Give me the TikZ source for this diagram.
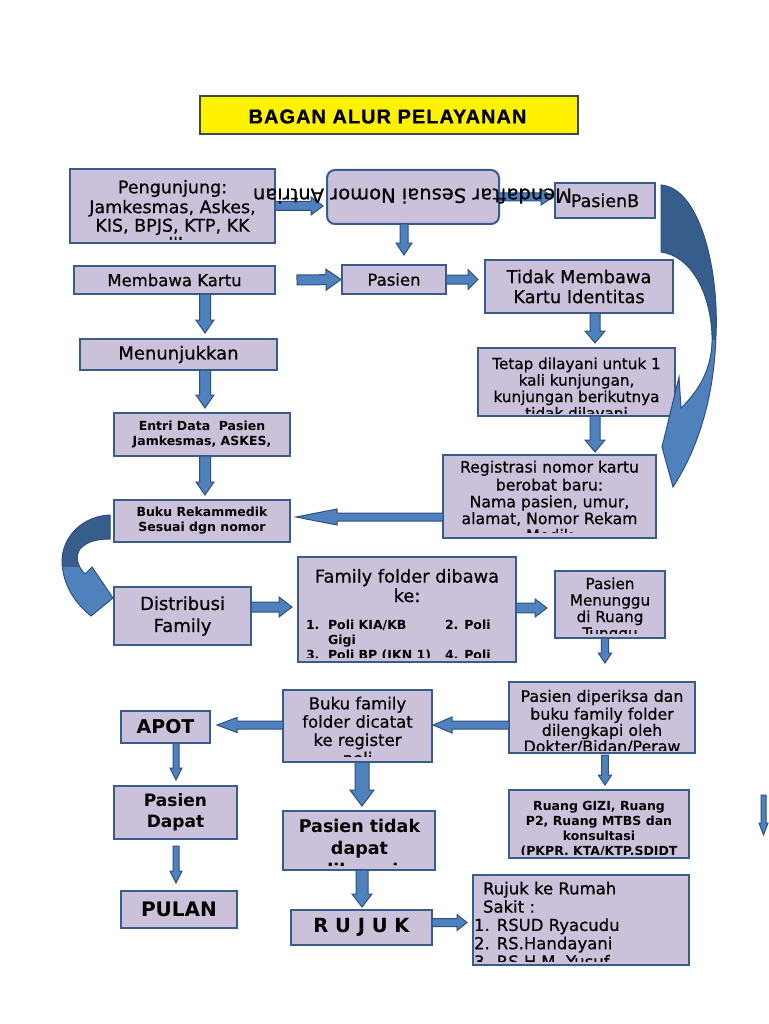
\documentclass[tikz,border=0pt]{standalone}
\usepackage{fontspec}
\setmainfont{DejaVu Sans}[UprightFeatures={FakeBold=0.5}]
\newfontfamily\titlefont[LetterSpace=5, BoldFeatures={FakeBold=1}]{Liberation Sans}
\usetikzlibrary{calc}
\definecolor{boxfill}{HTML}{CCC1DA}
\definecolor{boxline}{HTML}{385D8A}
\definecolor{arrfill}{HTML}{4F81BD}
\definecolor{arrdark}{HTML}{375D8C}
\definecolor{arrline}{HTML}{2F5080}
\definecolor{titleline}{HTML}{3C4A57}
\newcommand\fsz[2]{\fontsize{#1}{#2}\selectfont}
\tikzset{
  box/.style={draw=boxline, fill=boxfill, line width=2pt, inner sep=0pt, outer sep=0pt},
  txt/.style={inner sep=0pt, outer sep=0pt, align=center, text=black},
  blockarrow/.style={draw=arrline, fill=arrfill, line width=1pt, line join=miter},
}
% [bottom clip inset] name, x1, y1, x2, y2, text options, text
\newcommand\cbox[8][4]{%
  \node[box, anchor=north west, minimum width={(#5-#3)*1pt}, minimum height={(#6-#4)*1pt}] (#2) at (#3,#4) {};
  \begin{scope}
    \clip ($(#2.south west)+(1,-#1)$) rectangle ($(#2.north east)+(-1,1)$);
    \node[txt, at={(#2.center)}, #7] (#2-t) {#8};
  \end{scope}}
% from, to, shaft half width, head half width, head length
\newcommand\barrow[5]{%
  \path (#1) coordinate (bA) (#2) coordinate (bB);
  \path ($(bB)!#5!(bA)$) coordinate (bH);
  \draw[blockarrow] ($(bA)!#3!90:(bB)$) -- ($(bH)!#3!90:(bB)$) -- ($(bH)!#4!90:(bB)$) -- (bB)
    -- ($(bH)!#4!-90:(bB)$) -- ($(bH)!#3!-90:(bB)$) -- ($(bA)!#3!-90:(bB)$) -- cycle;}
\begin{document}
\begin{tikzpicture}[x=1pt,y=-1pt]
\useasboundingbox (0,0) rectangle (768,1024);
\fill[white] (0,0) rectangle (768,1024);

% title
\node[draw=titleline, fill=yellow, line width=2pt, inner sep=0pt, minimum width=378pt, minimum height=38pt, anchor=north west] (title) at (198.5,95.5) {};
\node[txt, font=\titlefont\bfseries\fsz{20}{22}] (title-t) at (387.5,116.5) {BAGAN ALUR PELAYANAN};

% boxes
\cbox[4]{pengunjung}{70}{169}{275}{243}{anchor=north, at={(172.5,180)}, font=\fsz{17.5}{18.5}}{\strut Pengunjung:\\Jamkesmas, Askes,\\KIS, BPJS, KTP, KK\\dll}
\node[box, rounded corners=8pt, anchor=north west, minimum width=172pt, minimum height=54pt] (mendaftar) at (327,170) {};
\cbox{pasienb}{555}{183}{655}{218}{font=\fsz{17.5}{20}}{PasienB}
\cbox{membawa}{74}{266}{275}{294}{font=\fsz{16.5}{18}}{Membawa Kartu}
\cbox{pasien}{342}{265}{446}{294}{font=\fsz{16.5}{18}}{Pasien}
\cbox{tidak}{485}{260}{673}{313}{font=\fsz{17.8}{20}}{Tidak Membawa\\Kartu Identitas}
\cbox{menunjukkan}{80}{339}{277}{370}{font=\fsz{18}{20}}{Menunjukkan}
\cbox{entri}{114}{413}{290}{456}{font=\bfseries\fsz{12.5}{15}}{Entri Data\ \ Pasien\\Jamkesmas, ASKES,}
\cbox{buku}{114}{500}{290}{542}{font=\bfseries\fsz{12.5}{15}}{Buku Rekammedik\\Sesuai dgn nomor}
\cbox[3]{tetap}{478}{348}{675}{416}{anchor=north, at={(576.5,357.5)}, font=\fsz{15.2}{16.5}}{\strut Tetap dilayani untuk 1\\kali kunjungan,\\kunjungan berikutnya\\tidak dilayani}
\cbox[5.5]{registrasi}{443}{455}{656}{538}{anchor=north, at={(549.5,460.6)}, font=\fsz{15.7}{16.8}}{\strut Registrasi nomor kartu\\berobat baru:\\Nama pasien, umur,\\alamat, Nomor Rekam\\Medik}
\cbox{distribusi}{114}{587}{251}{645}{font=\fsz{18}{22}}{Distribusi\\Family}
\cbox[5]{family}{298}{557}{516}{662}{anchor=north, at={(407,569)}, font=\fsz{17.8}{16.5}}{\strut Family folder dibawa\\ke:}
\begin{scope}
  \clip ($(family.south west)+(1,-5)$) rectangle ($(family.north east)+(-1,1)$);
  \node[txt, align=left, anchor=north west, font=\bfseries\fsz{12.5}{15}] (family-n) at (306,618.5) {\strut 1.\\\strut\\\strut 3.};
  \node[txt, align=left, anchor=north west, font=\bfseries\fsz{12.5}{15}] (family-a) at (328,618.5) {\strut Poli KIA/KB\\Gigi\\Poli BP (IKN 1)};
  \node[txt, align=left, anchor=north west, font=\bfseries\fsz{12.5}{15}] (family-b) at (445,618.5) {\strut 2. Poli\\\strut\\\strut 4. Poli};
\end{scope}
\cbox[5]{menunggu}{555}{571}{665}{638}{anchor=north, at={(610,577.5)}, font=\fsz{15.2}{16.5}}{\strut Pasien\\Menunggu\\di Ruang\\Tunggu}
\cbox[3]{diperiksa}{509}{682}{695}{753}{anchor=north, at={(602,689.8)}, font=\fsz{15.8}{16.2}}{\strut Pasien diperiksa dan\\buku family folder\\dilengkapi oleh\\Dokter/Bidan/Peraw}
\cbox[6]{bukufam}{283}{690}{432}{762}{anchor=north, at={(357.5,696.5)}, font=\fsz{16.5}{18.3}}{\strut Buku family\\folder dicatat\\ke register\\poli}
\cbox{apot}{121}{711}{210}{743}{font=\bfseries\fsz{19}{22}}{APOT}
\cbox{dapat}{114}{786}{237}{839}{font=\bfseries\fsz{17}{20.6}}{Pasien\\Dapat}
\cbox{pulan}{121}{891}{237}{928}{font=\bfseries\fsz{20}{22}}{PULAN}
\cbox[5]{tdkdapat}{283}{811}{435}{870}{anchor=north, at={(359.5,817.5)}, font=\bfseries\fsz{17.5}{21.7}}{\strut Pasien tidak\\dapat\\dilayani}
\cbox{rujuk}{291}{910}{432}{945}{font=\bfseries\fsz{19.5}{22}}{R U J U K}
\cbox[4]{gizi}{509}{790}{689}{858}{anchor=north, at={(599,799.9)}, font=\bfseries\fsz{12.5}{15}}{\strut Ruang GIZI, Ruang\\P2, Ruang MTBS dan\\konsultasi\\(PKPR, KTA/KTP,SDIDT}
\cbox[4]{rujukrs}{473}{875}{689}{965}{anchor=north west, at={(474,881.5)}, align=left, font=\fsz{16.5}{18.3}}{\strut\hspace{9pt}Rujuk ke Rumah\\\hspace{9pt}Sakit :\\1. RSUD Ryacudu\\2. RS.Handayani\\3. RS.H.M. Yusuf}

% block arrows
\barrow{pengunjung.east}{$(mendaftar.west |- pengunjung.east)+(-4,0)$}{4.5pt}{9pt}{12pt}
\barrow{mendaftar.east}{$(pasienb.west |- mendaftar.east)+(-2,0)$}{4pt}{8pt}{12pt}
\barrow{$(mendaftar.south)+(-9,0)$}{$(pasien.north)+(10,-10)$}{4pt}{8pt}{12pt}
\barrow{$(membawa.east)+(22,0)$}{$(pasien.west)+(-1,0)$}{5pt}{10.5pt}{15pt}
\barrow{pasien.east}{$(tidak.west |- pasien.east)+(-7,0)$}{4.5pt}{10pt}{10pt}
\barrow{$(membawa.south -| entri.north)+(3,0)$}{$(menunjukkan.north -| entri.north)+(3,-6)$}{5.5pt}{9pt}{13pt}
\barrow{$(menunjukkan.south -| entri.north)+(3,0)$}{$(entri.north)+(3,-5)$}{5.5pt}{9pt}{13pt}
\barrow{$(entri.south)+(3,0)$}{$(buku.north)+(3,-5)$}{5.5pt}{9pt}{13pt}
\barrow{$(tidak.south)+(16,0)$}{$(tetap.north -| tidak.south)+(16,-5)$}{5pt}{10pt}{12pt}
\barrow{$(tetap.south -| tidak.south)+(16,0)$}{$(registrasi.north -| tidak.south)+(16,-3)$}{5pt}{10pt}{12pt}
\barrow{$(registrasi.west |- buku.east)+(0,-4)$}{$(buku.east)+(6,-4)$}{4pt}{8pt}{41pt}
\barrow{$(distribusi.east)+(0,-9)$}{$(family.west |- distribusi.east)+(-6,-9)$}{5pt}{10pt}{13pt}
\barrow{$(family.east)+(0,-1.5)$}{$(menunggu.west |- family.east)+(-8,-1.5)$}{4.8pt}{9pt}{12pt}
\barrow{$(menunggu.south)+(-5,0)$}{$(diperiksa.north)+(3,-19)$}{3.7pt}{6.7pt}{10pt}
\barrow{$(diperiksa.west)+(0,7.5)$}{$(bukufam.east |- diperiksa.west)+(1,7.5)$}{4pt}{8pt}{19pt}
\barrow{$(bukufam.west)+(0,-1)$}{$(apot.east |- bukufam.west)+(7,-1)$}{4pt}{7.5pt}{20pt}
\barrow{$(apot.south)+(10.5,0)$}{$(dapat.north -| apot.south)+(10.5,-6)$}{3pt}{6pt}{12pt}
\barrow{$(dapat.south -| apot.south)+(10.5,7)$}{$(pulan.north -| apot.south)+(10.5,-8)$}{3pt}{6pt}{12pt}
\barrow{$(bukufam.south)+(4.5,0)$}{$(tdkdapat.north -| bukufam.south)+(4.5,-5)$}{7pt}{12pt}{16pt}
\barrow{$(tdkdapat.south -| bukufam.south)+(4.5,0)$}{$(rujuk.north -| bukufam.south)+(4.5,-3)$}{6pt}{10pt}{13pt}
\barrow{$(rujuk.east)+(0,-5)$}{$(rujukrs.west |- rujuk.east)+(-6,-5)$}{4pt}{8pt}{10pt}
\barrow{$(diperiksa.south)+(3,2)$}{$(gizi.north)+(6,-5)$}{3.3pt}{6.7pt}{10pt}
\coordinate (fr1) at (763.5,795);
\coordinate (fr2) at (763.5,835);
\barrow{fr1}{fr2}{2.5pt}{4.5pt}{12pt}

% curved arrows
\def\rightcurve{(661,185) .. controls (700,188) and (719,270) .. (716,335) .. controls (714,400) and (697,450) .. (673,487) -- (662,447) -- (679,377) -- (681,408) .. controls (705,385) and (713,360) .. (712,335) .. controls (710,290) and (690,256) .. (661,252) -- cycle}
\fill[arrfill] \rightcurve;
\begin{scope}
  \clip (600,150) rectangle (768,339);
  \fill[arrdark] \rightcurve;
\end{scope}
\draw[arrline, line width=1pt, line join=miter] \rightcurve;

\def\leftcurve{(110,515) .. controls (84,516) and (63,535) .. (62,560) .. controls (62,585) and (76,604) .. (91,616) -- (113,598) -- (92,567) -- (85,574) .. controls (77,566) and (75,556) .. (80,549) .. controls (87,541) and (98,539) .. (110,539) -- cycle}
\fill[arrfill] \leftcurve;
\begin{scope}
  \clip (40,500) rectangle (130,566);
  \fill[arrdark] \leftcurve;
\end{scope}
\draw[arrline, line width=1pt, line join=miter] \leftcurve;

% upside-down text of the rounded box
\node[txt, rotate=180, font=\fsz{19.5}{22}] (mendaftar-t) at (412.5,196) {Mendaftar Sesuai Nomor Antrian};
\end{tikzpicture}
\end{document}
